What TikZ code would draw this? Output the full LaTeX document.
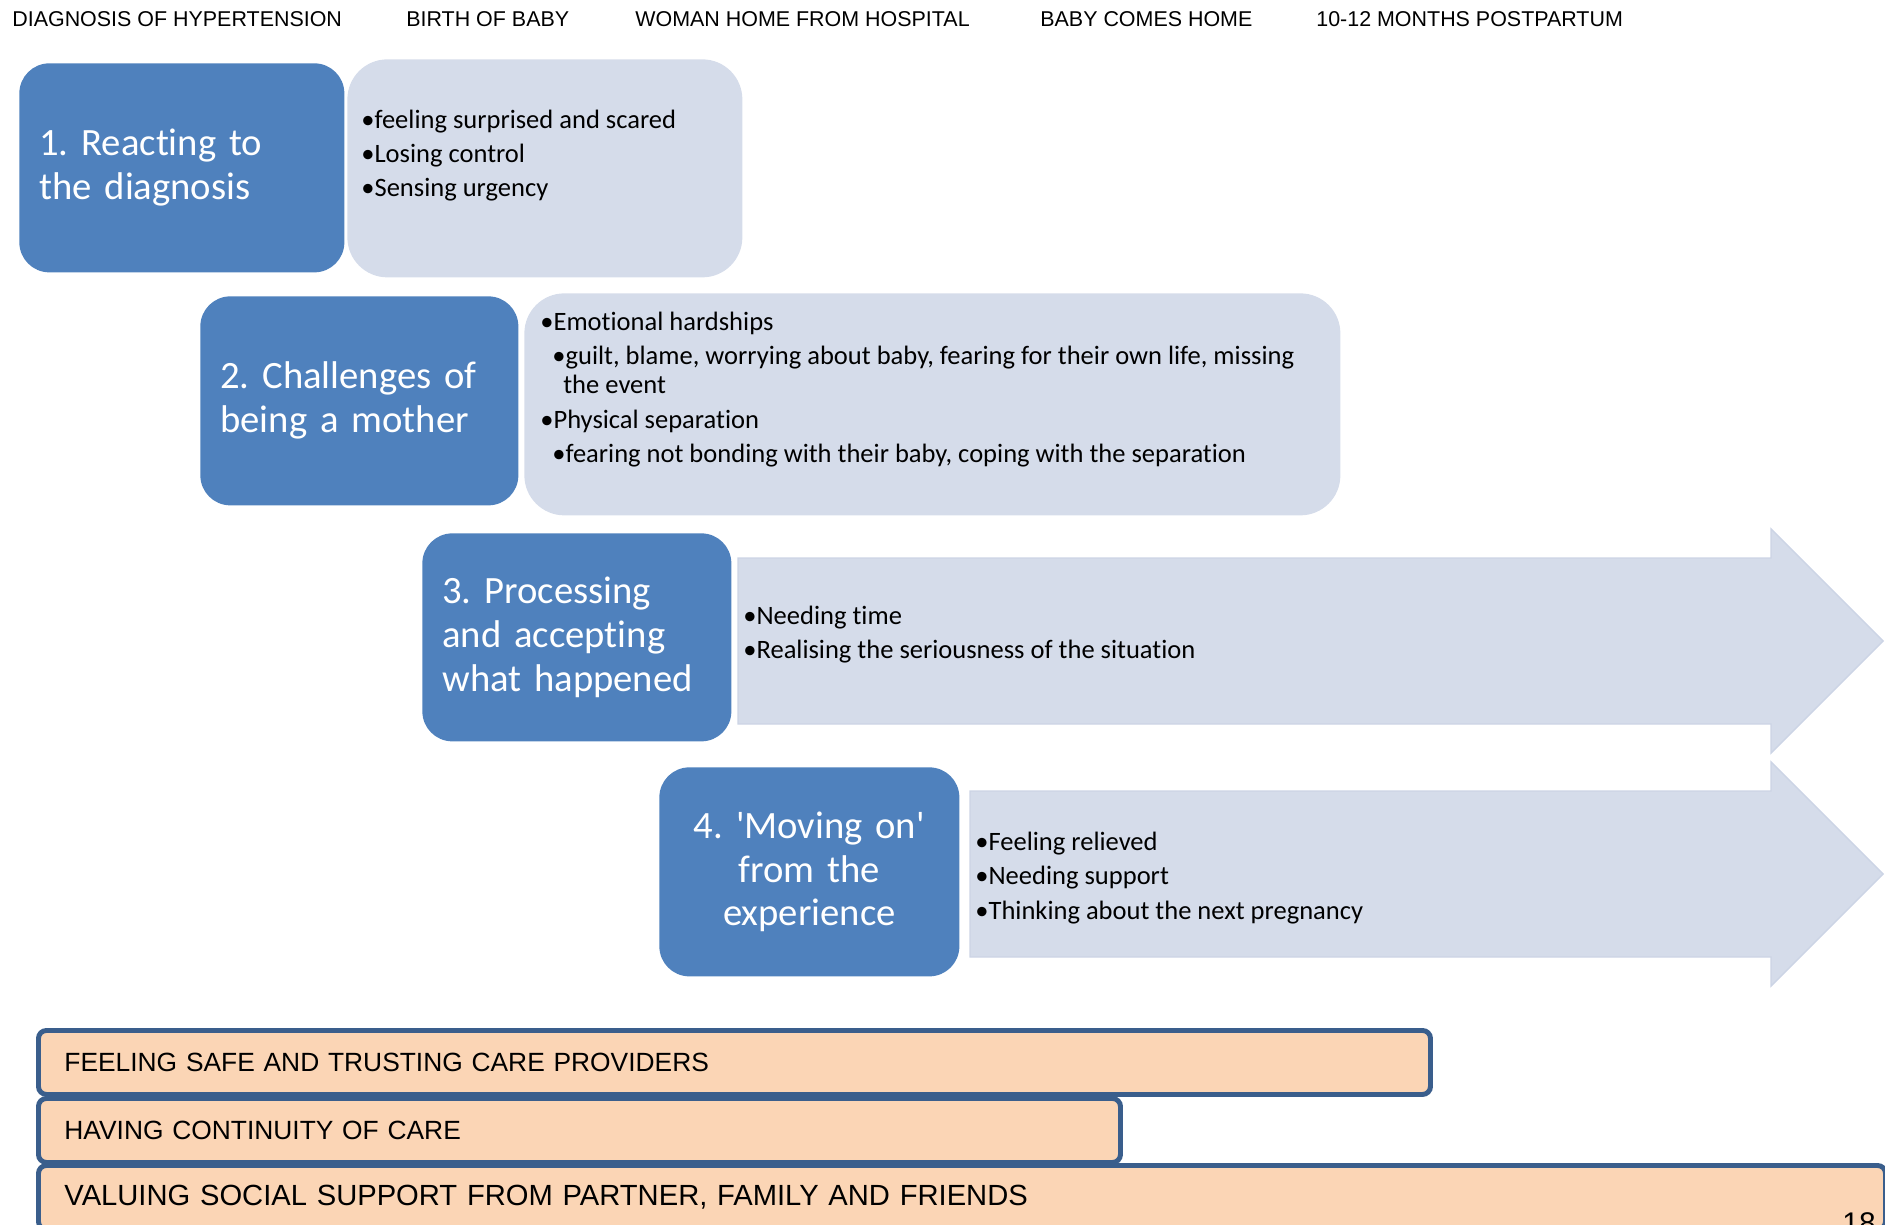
\documentclass[tikz,border=0pt]{standalone}
\usepackage{fontspec}
\setmainfont{Carlito}[Ligatures=NoCommon]
\newfontfamily\arialfont{Liberation Sans}
\usetikzlibrary{positioning}
\frenchspacing
\definecolor{ppblue}{HTML}{4F81BD}
\definecolor{pplight}{HTML}{D5DCEA}
\definecolor{ppedge}{HTML}{CCD4E5}
\definecolor{pppeach}{HTML}{FBD5B5}
\definecolor{ppframe}{HTML}{3A5E8C}
\tikzset{
  stage/.style={fill=ppblue, rounded corners=6mm, anchor=north west, inner xsep=4mm, inner ysep=0pt, align=left, text=white, font=\fontsize{22}{25}\selectfont, minimum height=41.8mm},
  card/.style={fill=pplight, rounded corners=8mm, anchor=north west},
  flow/.style={fill=pplight, draw=ppedge, line width=0.8pt},
  pt/.style={anchor=base west, inner sep=0pt, font=\fontsize{15.1}{18}\selectfont},
  hdr/.style={anchor=base west, inner sep=0pt, font=\arialfont\fontsize{12.2}{14}\selectfont},
  band/.style={draw=ppframe, line width=2.8pt, fill=pppeach, rounded corners=1.6mm, anchor=north west, minimum height=12.8mm, inner xsep=5.2mm, inner ysep=0pt, align=left, font=\arialfont\fontsize{15}{18}\selectfont},
}
\begin{document}
\begin{tikzpicture}[x=0.2mm, y=-0.2mm]
  \useasboundingbox (0,0) rectangle (1885,1224);
  % time line across the top
  \foreach \x/\t [count=\i] in {12/DIAGNOSIS OF HYPERTENSION, 406/BIRTH OF BABY, 635/WOMAN HOME FROM HOSPITAL, 1040/BABY COMES HOME, 1316/10-12 MONTHS POSTPARTUM}
    \node[hdr] (h\i) at (\x,26) {\t};

  % light cards and arrows
  \node[card, minimum width=79mm, minimum height=43.6mm] (c1) at (347,59) {};
  \node[card, minimum width=163.2mm, minimum height=44.4mm] (c2) at (524,293) {};
  \draw[flow] (738,558) -- (1771,558) -- (1771,529) -- (1883,641) -- (1771,753) -- (1771,724) -- (738,724) -- cycle;
  \draw[flow] (970,791) -- (1771,791) -- (1771,762) -- (1883,874) -- (1771,986) -- (1771,957) -- (970,957) -- cycle;

  % the four stages
  \node[stage, text width=57mm] (s1) at (19,63) {1. Reacting to\\the diagnosis};
  \node[stage, text width=55.6mm] (s2) at (200,296) {2. Challenges of\\being a mother};
  \node[stage, text width=53.8mm, minimum height=41.6mm] (s3) at (422,533) {3. Processing\\and accepting\\what happened};
  \node[stage, text width=52mm, align=center] (s4) at (659,767) {4. \textquotesingle Moving on\textquotesingle\\from the\\experience};

  % sub-themes
  \foreach \x/\y/\t [count=\i] in {
      361/128/{•feeling surprised and scared}, 361/162/{•Losing control}, 361/196/{•Sensing urgency},
      540/330/{•Emotional hardships}, 552/364/{•guilt, blame, worrying about baby, fearing for their own life, missing},
      563/393/{the event}, 540/428/{•Physical separation}, 552/462/{•fearing not bonding with their baby, coping with the separation},
      743/624/{•Needing time}, 743/658/{•Realising the seriousness of the situation},
      975/850/{•Feeling relieved}, 975/884/{•Needing support}, 975/919/{•Thinking about the next pregnancy}}
    \node[pt] (p\i) at (\x,\y) {\t};

  % themes running through
  \node[band, text width=268mm] (b1) at (36,1028) {FEELING SAFE AND TRUSTING CARE PROVIDERS};
  \node[band, text width=206mm] (b2) at (36,1096) {HAVING CONTINUITY OF CARE};
  \node[band, text width=359mm, font=\arialfont\fontsize{16.6}{19}\selectfont] (b3) at (36,1163) {VALUING SOCIAL SUPPORT FROM PARTNER, FAMILY AND FRIENDS};
  \node[anchor=north east, inner sep=0pt, font=\arialfont\fontsize{17}{19}\selectfont] (pg) at (1876,1212) {18};
\end{tikzpicture}
\end{document}
